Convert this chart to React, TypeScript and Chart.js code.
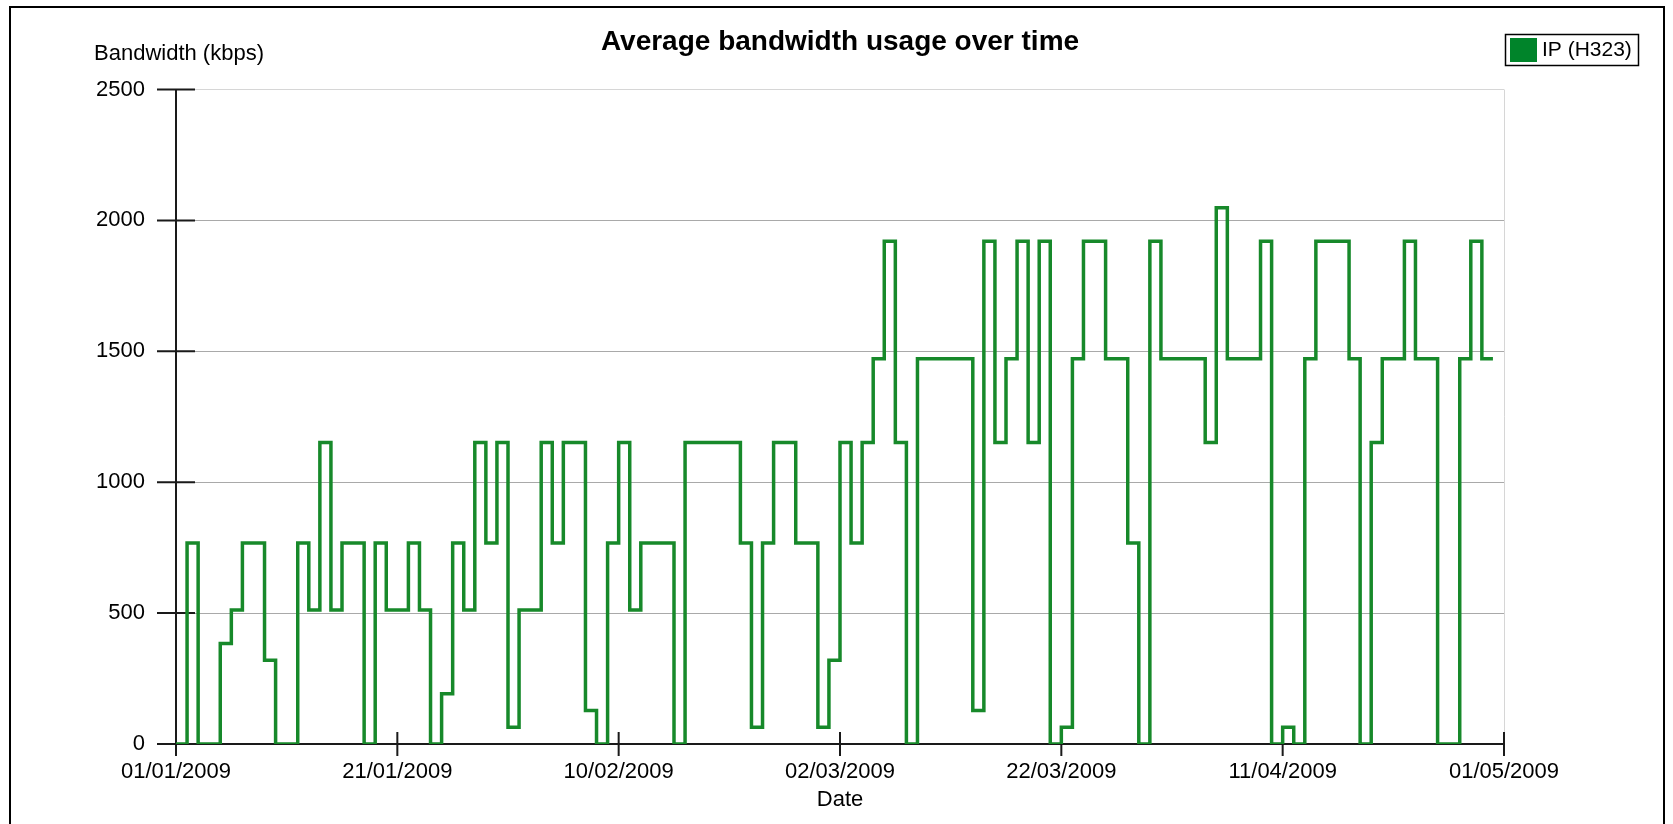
import React, { useEffect, useRef } from "react";
import { Chart, registerables } from "chart.js";

Chart.register(...registerables);

const chartTitle = "Average bandwidth usage over time";
const yAxisTitle = "Bandwidth (kbps)";
const xAxisTitle = "Date";
const seriesLabel = "IP (H323)";

// x axis tick labels, one every 20 days starting 01/01/2009
const dateTickLabels = [
  "01/01/2009",
  "21/01/2009",
  "10/02/2009",
  "02/03/2009",
  "22/03/2009",
  "11/04/2009",
  "01/05/2009",
];
const dayStep = 20;

const yTickValues = [0, 500, 1000, 1500, 2000, 2500];

// daily average bandwidth (kbps), day 0 = 01/01/2009
const bandwidthKbps = [
  0, 768, 0, 0, 384, 512, 768, 768, 320, 0,
  0, 768, 512, 1152, 512, 768, 768, 0, 768, 512,
  512, 768, 512, 0, 192, 768, 512, 1152, 768, 1152,
  64, 512, 512, 1152, 768, 1152, 1152, 128, 0, 768,
  1152, 512, 768, 768, 768, 0, 1152, 1152, 1152, 1152,
  1152, 768, 64, 768, 1152, 1152, 768, 768, 64, 320,
  1152, 768, 1152, 1472, 1920, 1152, 0, 1472, 1472, 1472,
  1472, 1472, 128, 1920, 1152, 1472, 1920, 1152, 1920, 0,
  64, 1472, 1920, 1920, 1472, 1472, 768, 0, 1920, 1472,
  1472, 1472, 1472, 1152, 2048, 1472, 1472, 1472, 1920, 0,
  64, 0, 1472, 1920, 1920, 1920, 1472, 0, 1152, 1472,
  1472, 1920, 1472, 1472, 0, 0, 1472, 1920, 1472,
];

const W = 1673;
const H = 824;
const FONT = '"Liberation Sans", Arial, Helvetica, sans-serif';
const LINE_COLOR = "#17892a";
const LEGEND_COLOR = "#00842a";
const AXIS_COLOR = "#1a1a1a";
const TEXT_SIZE = 22;

export default function App() {
  const ref = useRef<HTMLCanvasElement>(null);

  useEffect(() => {
    const canvas = ref.current;
    if (!canvas) return;

    const points = bandwidthKbps.map((v, i) => ({ x: i, y: v }));
    points.push({ x: bandwidthKbps.length, y: bandwidthKbps[bandwidthKbps.length - 1] });
    const xMax = (dateTickLabels.length - 1) * dayStep;
    const yMax = yTickValues[yTickValues.length - 1];
    const yStep = yTickValues[1] - yTickValues[0];

    const decor = {
      id: "decor",
      beforeDraw(chart: any) {
        const ctx = chart.ctx;
        ctx.save();
        ctx.fillStyle = "#ffffff";
        ctx.fillRect(0, 0, W, H);
        ctx.strokeStyle = "#000";
        ctx.lineWidth = 2;
        ctx.beginPath();
        ctx.moveTo(10, H + 4);
        ctx.lineTo(10, 7);
        ctx.lineTo(1664, 7);
        ctx.lineTo(1664, H + 4);
        ctx.stroke();
        ctx.restore();
      },
      beforeDatasetsDraw(chart: any) {
        const { ctx, scales } = chart;
        const xs = scales.x;
        const ys = scales.y;
        const y0 = ys.getPixelForValue(0);
        const x0 = xs.getPixelForValue(0);
        ctx.save();
        ctx.strokeStyle = AXIS_COLOR;
        ctx.lineWidth = 2;
        ctx.beginPath();
        ctx.moveTo(x0, ys.getPixelForValue(yMax));
        ctx.lineTo(x0, y0 + 12);
        ctx.moveTo(x0 - 19, y0);
        ctx.lineTo(xs.getPixelForValue(xMax), y0);
        ys.ticks.forEach((t: any) => {
          const py = ys.getPixelForValue(t.value);
          ctx.moveTo(x0 - 19, py);
          ctx.lineTo(x0 + 19, py);
        });
        xs.ticks.forEach((t: any) => {
          const px = xs.getPixelForValue(t.value);
          ctx.moveTo(px, y0 - 12);
          ctx.lineTo(px, y0 + 12);
        });
        ctx.stroke();
        ctx.restore();
      },
      afterDraw(chart: any) {
        const { ctx, chartArea } = chart;
        const cx = (chartArea.left + chartArea.right) / 2;
        ctx.save();
        ctx.fillStyle = "#000";
        ctx.textBaseline = "middle";
        // title
        ctx.font = `bold 28px ${FONT}`;
        ctx.textAlign = "center";
        ctx.fillText(chartTitle, cx, 42);
        // axis titles
        ctx.font = `${TEXT_SIZE}px ${FONT}`;
        ctx.fillText(xAxisTitle, cx, 800);
        ctx.textAlign = "left";
        ctx.fillText(yAxisTitle, 94, 54);
        // legend
        const ds = chart.data.datasets[0];
        ctx.strokeStyle = "#000";
        ctx.lineWidth = 1.5;
        ctx.strokeRect(1505.5, 34.5, 133, 31);
        ctx.fillStyle = LEGEND_COLOR;
        ctx.fillRect(1510, 38, 27, 24);
        ctx.fillStyle = "#000";
        ctx.font = `21px ${FONT}`;
        ctx.fillText(ds.label, 1542, 50.5);
        ctx.restore();
      },
    };

    const chart = new Chart(canvas, {
      type: "line",
      data: {
        datasets: [
          {
            label: seriesLabel,
            data: points,
            stepped: true,
            borderColor: LINE_COLOR,
            backgroundColor: LEGEND_COLOR,
            borderWidth: 3.5,
            pointRadius: 0,
            fill: false,
            tension: 0,
            borderJoinStyle: "miter",
            borderCapStyle: "butt",
          } as any,
        ],
      },
      options: {
        responsive: false,
        maintainAspectRatio: false,
        devicePixelRatio: 1,
        animation: false,
        events: [],
        layout: { padding: { left: 0, top: 89.5, right: 169, bottom: 0 } },
        plugins: {
          legend: { display: false },
          title: { display: false },
          tooltip: { enabled: false },
        },
        scales: {
          x: {
            type: "linear",
            min: 0,
            max: xMax,
            afterFit: (s: any) => {
              s.height = 80;
            },
            border: { display: false },
            grid: {
              drawTicks: false,
              lineWidth: 1,
              color: (c: any) => (c.tick && c.tick.value === xMax ? "#d6d6d6" : "rgba(0,0,0,0)"),
            },
            ticks: {
              stepSize: dayStep,
              autoSkip: false,
              maxRotation: 0,
              padding: 15,
              color: "#000",
              font: { size: TEXT_SIZE, family: FONT },
              callback: (v: any) => dateTickLabels[Math.round(Number(v) / dayStep)] ?? "",
            },
          },
          y: {
            type: "linear",
            min: 0,
            max: yMax,
            afterFit: (s: any) => {
              s.width = 176;
            },
            border: { display: false },
            grid: {
              drawTicks: false,
              lineWidth: 1,
              color: (c: any) => {
                const v = c.tick ? c.tick.value : -1;
                if (v === 0) return "rgba(0,0,0,0)";
                if (v === yMax) return "#d6d6d6";
                return "#a9a9a9";
              },
            },
            ticks: {
              stepSize: yStep,
              padding: 31,
              color: "#000",
              font: { size: TEXT_SIZE, family: FONT },
              callback: (v: any) => String(v),
            },
          },
        },
      },
      plugins: [decor],
    });

    return () => {
      chart.destroy();
    };
  }, []);

  return (
    <div style={{ position: "fixed", left: 0, top: 0, width: W, height: H, background: "#fff", overflow: "hidden" }}>
      <canvas ref={ref} width={W} height={H} style={{ display: "block", width: W, height: H }} />
    </div>
  );
}
